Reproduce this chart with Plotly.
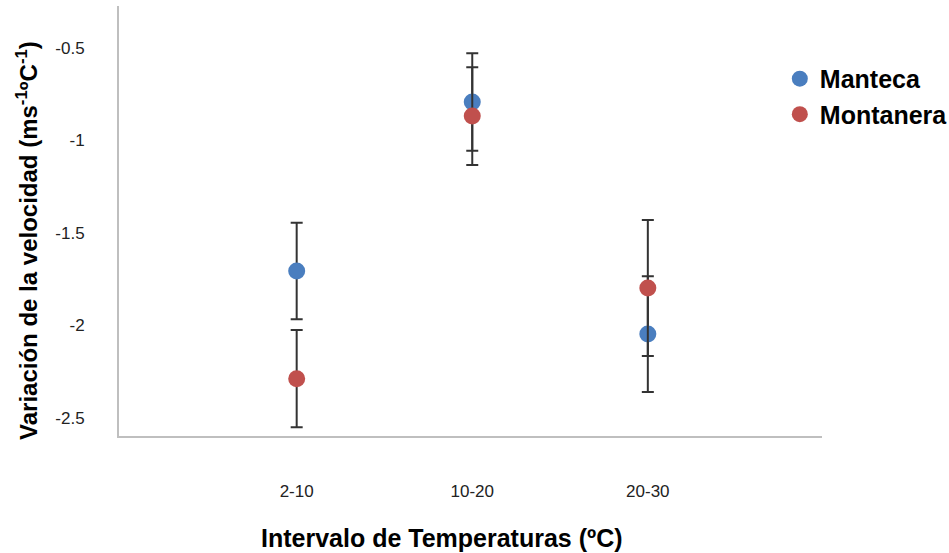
import plotly.graph_objects as go

categories = ["2-10", "10-20", "20-30"]
manteca = [-1.705, -0.792, -2.046]
manteca_err = [0.261, 0.263, 0.313]
montanera = [-2.287, -0.868, -1.797]
montanera_err = [0.263, 0.264, 0.368]
ytick_vals = [-2.5, -2.0, -1.5, -1.0, -0.5]
ytick_text = ["-2.5", "-2", "-1.5", "-1", "-0.5"]

BLUE = "#4a7ebf"
RED = "#c0504d"
ERR = "#333333"
AXIS = "#bfbfbf"
NARROW = "Liberation Sans Narrow, Arial Narrow, Liberation Sans, Arial, sans-serif"
BOLD = "Liberation Sans, Arial, sans-serif"

fig = go.Figure()
fig.add_trace(go.Scatter(
    x=categories, y=manteca, mode="markers", name="Manteca",
    marker=dict(color=BLUE, size=17, line=dict(width=0)),
    error_y=dict(type="data", array=manteca_err, visible=True,
                 color=ERR, thickness=2, width=6),
))
fig.add_trace(go.Scatter(
    x=categories, y=montanera, mode="markers", name="Montanera",
    marker=dict(color=RED, size=17, line=dict(width=0)),
    error_y=dict(type="data", array=montanera_err, visible=True,
                 color=ERR, thickness=2, width=6),
))

fig.update_layout(
    width=949, height=553,
    margin=dict(l=119, r=127, t=6, b=117, autoexpand=False),
    paper_bgcolor="white", plot_bgcolor="white",
    showlegend=True,
    legend=dict(
        x=0.94, y=0.884, xanchor="left", yanchor="top",
        font=dict(family=BOLD, size=25, color="black", weight="bold"),
        itemwidth=30, bgcolor="rgba(0,0,0,0)", borderwidth=0,
        tracegroupgap=0,
    ),
    xaxis=dict(
        type="category", range=[-1.012, 2.992],
        showline=True, linecolor=AXIS, linewidth=2,
        showgrid=False, zeroline=False, ticks="",
        tickfont=dict(family=NARROW, size=17, color="#222222"),
        ticklabelstandoff=39,
    ),
    yaxis=dict(
        range=[-2.597, -0.273],
        tickvals=ytick_vals, ticktext=ytick_text,
        showline=True, linecolor=AXIS, linewidth=2,
        showgrid=False, zeroline=False, ticks="",
        tickfont=dict(family=NARROW, size=17, color="#222222"),
        ticklabelstandoff=29,
    ),
    annotations=[
        dict(text="<b>Intervalo de Temperaturas (ºC)</b>", xref="paper", yref="paper",
             x=0.4595, y=-0.237, xanchor="center", yanchor="middle", showarrow=False,
             font=dict(family=BOLD, size=25, color="black")),
        dict(text="<b>Variación de la velocidad (ms<sup>-1</sup>ºC<sup>-1</sup>)</b>",
             xref="paper", yref="paper", x=-0.13, y=0.455, textangle=-90,
             xanchor="center", yanchor="middle", showarrow=False,
             font=dict(family=BOLD, size=24, color="black")),
    ],
)

fig.write_html("out.html")
